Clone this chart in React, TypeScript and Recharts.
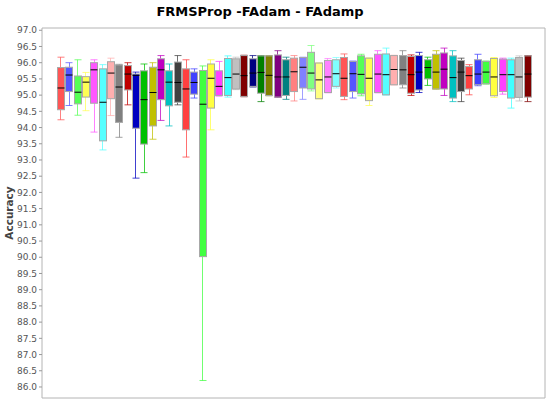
import React from 'react';
import { ComposedChart, Bar, XAxis, YAxis } from 'recharts';

const TITLE = 'FRMSProp -FAdam - FAdamp';
const Y_LABEL = 'Accuracy';

const seriesNames = Array.from({ length: 57 }, (_, i) => `Series ${i + 1}`);

const lowWhisker = [
  94.24, 94.68, 94.38, 94.52, 93.86, 93.31, 94.37, 93.70, 94.70, 92.44,
  92.61, 93.64, 94.22, 94.05, 94.70, 93.09, 94.91, 86.20, 93.93, 94.97,
  94.94, 95.17, 94.95, 95.25, 94.80, 94.98, 94.93, 94.87, 94.82, 94.87,
  95.13, 94.88, 95.07, 95.22, 94.86, 94.91, 94.98, 94.68, 95.07, 95.00,
  95.31, 95.22, 94.99, 95.08, 95.30, 95.18, 94.99, 94.80, 94.80, 95.01,
  95.29, 95.34, 94.93, 95.03, 94.60, 94.82, 94.80,
];
const q1Values = [
  94.55, 95.11, 94.73, 94.94, 94.75, 93.59, 94.89, 94.16, 95.16, 93.98,
  93.49, 94.05, 94.86, 94.67, 94.78, 93.93, 95.03, 90.02, 94.60, 94.99,
  94.99, 95.19, 94.96, 95.27, 95.06, 94.99, 94.94, 94.99, 95.11, 95.22,
  95.19, 94.89, 95.08, 95.27, 94.96, 95.11, 95.04, 94.83, 95.08, 95.01,
  95.32, 95.32, 95.06, 95.16, 95.50, 95.19, 95.19, 94.91, 95.11, 95.19,
  95.32, 95.35, 94.98, 95.11, 94.91, 94.93, 94.94,
];
const medianValues = [
  95.22, 95.62, 95.09, 95.40, 95.78, 94.78, 95.68, 95.25, 95.65, 95.61,
  94.86, 95.08, 95.78, 95.40, 95.39, 95.19, 95.39, 94.72, 95.52, 95.27,
  95.54, 95.65, 95.60, 95.68, 95.70, 95.61, 95.56, 95.56, 95.72, 95.86,
  95.68, 95.47, 95.56, 95.66, 95.52, 95.66, 95.64, 95.52, 95.65, 95.63,
  95.79, 95.78, 95.63, 95.71, 95.85, 95.71, 95.80, 95.54, 95.71, 95.60,
  95.65, 95.71, 95.56, 95.63, 95.63, 95.56, 95.65,
];
const q3Values = [
  95.85, 95.86, 95.59, 95.57, 96.00, 95.81, 96.03, 95.93, 95.91, 95.65,
  95.75, 95.86, 96.12, 95.75, 96.02, 95.81, 95.71, 95.76, 95.96, 95.75,
  96.13, 96.12, 96.22, 96.12, 96.21, 96.21, 96.24, 96.09, 96.14, 96.16,
  96.32, 95.99, 96.07, 96.09, 96.16, 96.04, 96.21, 96.14, 96.26, 96.27,
  96.22, 96.22, 96.19, 96.22, 96.09, 96.26, 96.30, 96.21, 96.07, 95.88,
  96.09, 96.04, 96.13, 96.11, 96.09, 96.16, 96.21,
];
const highWhisker = [
  96.17, 96.00, 96.09, 95.70, 96.09, 95.94, 96.14, 95.95, 96.00, 95.71,
  95.96, 96.00, 96.22, 95.96, 96.22, 96.09, 95.81, 95.90, 96.09, 96.04,
  96.21, 96.17, 96.23, 96.22, 96.22, 96.22, 96.37, 96.17, 96.22, 96.17,
  96.53, 96.00, 96.13, 96.16, 96.27, 96.05, 96.26, 96.15, 96.37, 96.45,
  96.23, 96.37, 96.24, 96.32, 96.17, 96.37, 96.45, 96.37, 96.14, 95.94,
  96.26, 96.05, 96.16, 96.14, 96.14, 96.21, 96.22,
];

const palette = [
  '#FF5555', '#5555FF', '#55FF55', '#FFFF55', '#FF55FF', '#55FFFF', '#FFAFAF', '#808080',
  '#C00000', '#0000C0', '#00C000', '#C0C000', '#C000C0', '#00C0C0', '#404040',
  '#FF4040', '#4040FF', '#40FF40', '#FFFF40', '#FF40FF', '#40FFFF', '#C0C0C0',
  '#800000', '#000080', '#008000', '#808000', '#800080', '#008080',
  '#FF8080', '#8080FF', '#80FF80', '#FFFF80', '#FF80FF', '#80FFFF',
];

const yTicks = Array.from({ length: 23 }, (_, i) => 86 + i * 0.5);

const data = seriesNames.map((name, i) => ({
  name,
  range: [lowWhisker[i], highWhisker[i]],
  lo: lowWhisker[i],
  q1: q1Values[i],
  med: medianValues[i],
  q3: q3Values[i],
  hi: highWhisker[i],
  color: palette[i % palette.length],
}));

const BoxShape = (props: any) => {
  const { x, y, width, height, payload } = props;
  const top = Math.min(y, y + height);
  const bot = Math.max(y, y + height);
  const { lo, hi, q1, med, q3, color } = payload;
  const py = (v: number) => top + ((hi - v) / (hi - lo)) * (bot - top);
  const cx = Math.round(x + width / 2) + 0.5;
  const left = Math.round(x) + 0.5;
  const right = left + Math.round(width);
  return (
    <g>
      <line x1={cx} x2={cx} y1={py(hi)} y2={py(q3)} stroke={color} strokeOpacity={0.75} />
      <line x1={cx} x2={cx} y1={py(q1)} y2={py(lo)} stroke={color} strokeOpacity={0.75} />
      <line x1={left} x2={right} y1={py(hi)} y2={py(hi)} stroke={color} strokeOpacity={0.75} />
      <line x1={left} x2={right} y1={py(lo)} y2={py(lo)} stroke={color} strokeOpacity={0.75} />
      <rect x={left} y={py(q3)} width={right - left} height={py(q1) - py(q3)} fill={color} stroke="#a8a8a8" strokeWidth={1} />
      <line x1={left} x2={right} y1={py(med)} y2={py(med)} stroke="#000" strokeWidth={1} />
    </g>
  );
};

const font = '"DejaVu Sans", sans-serif';
const DOMAIN: [number, number] = [85.66, 97.07];

export default function App() {
  return (
    <div style={{ position: 'absolute', left: 0, top: 0, width: 550, height: 405, background: '#fff', fontFamily: font }}>
      <div style={{ position: 'absolute', left: 0, width: 520, top: 4, textAlign: 'center', fontSize: 13, fontWeight: 'bold', color: '#000', fontFamily: font }}>
        {TITLE}
      </div>
      <div style={{ position: 'absolute', left: 9, top: 213, transform: 'translate(-50%, -50%) rotate(-90deg)', fontSize: 10.5, fontWeight: 'bold', color: '#444', fontFamily: font, whiteSpace: 'nowrap' }}>
        {Y_LABEL}
      </div>
      <ComposedChart width={550} height={405} data={data} margin={{ top: 27, right: 4, bottom: 4, left: 0 }} barSize={7}>
        <XAxis dataKey="name" xAxisId={0} height={3} tick={false} tickLine={false} axisLine={{ stroke: '#b4b4b4' }} padding={{ left: 14, right: 14 }} />
        <XAxis dataKey="name" xAxisId="top" orientation="top" height={1} tick={false} tickLine={false} axisLine={{ stroke: '#b4b4b4' }} />
        <YAxis yAxisId={0} width={42} domain={DOMAIN} ticks={yTicks} allowDataOverflow interval={0}
          tickFormatter={(v: number) => v.toFixed(1)} tickSize={3} tickMargin={2}
          tick={{ fontSize: 9, fill: '#555', fontFamily: font }} tickLine={{ stroke: '#999' }} axisLine={{ stroke: '#b4b4b4' }} />
        <YAxis yAxisId="right" orientation="right" width={1} domain={DOMAIN} tick={false} tickLine={false} axisLine={{ stroke: '#b4b4b4' }} />
        <Bar dataKey="range" xAxisId={0} yAxisId={0} shape={BoxShape} isAnimationActive={false} />
      </ComposedChart>
    </div>
  );
}
